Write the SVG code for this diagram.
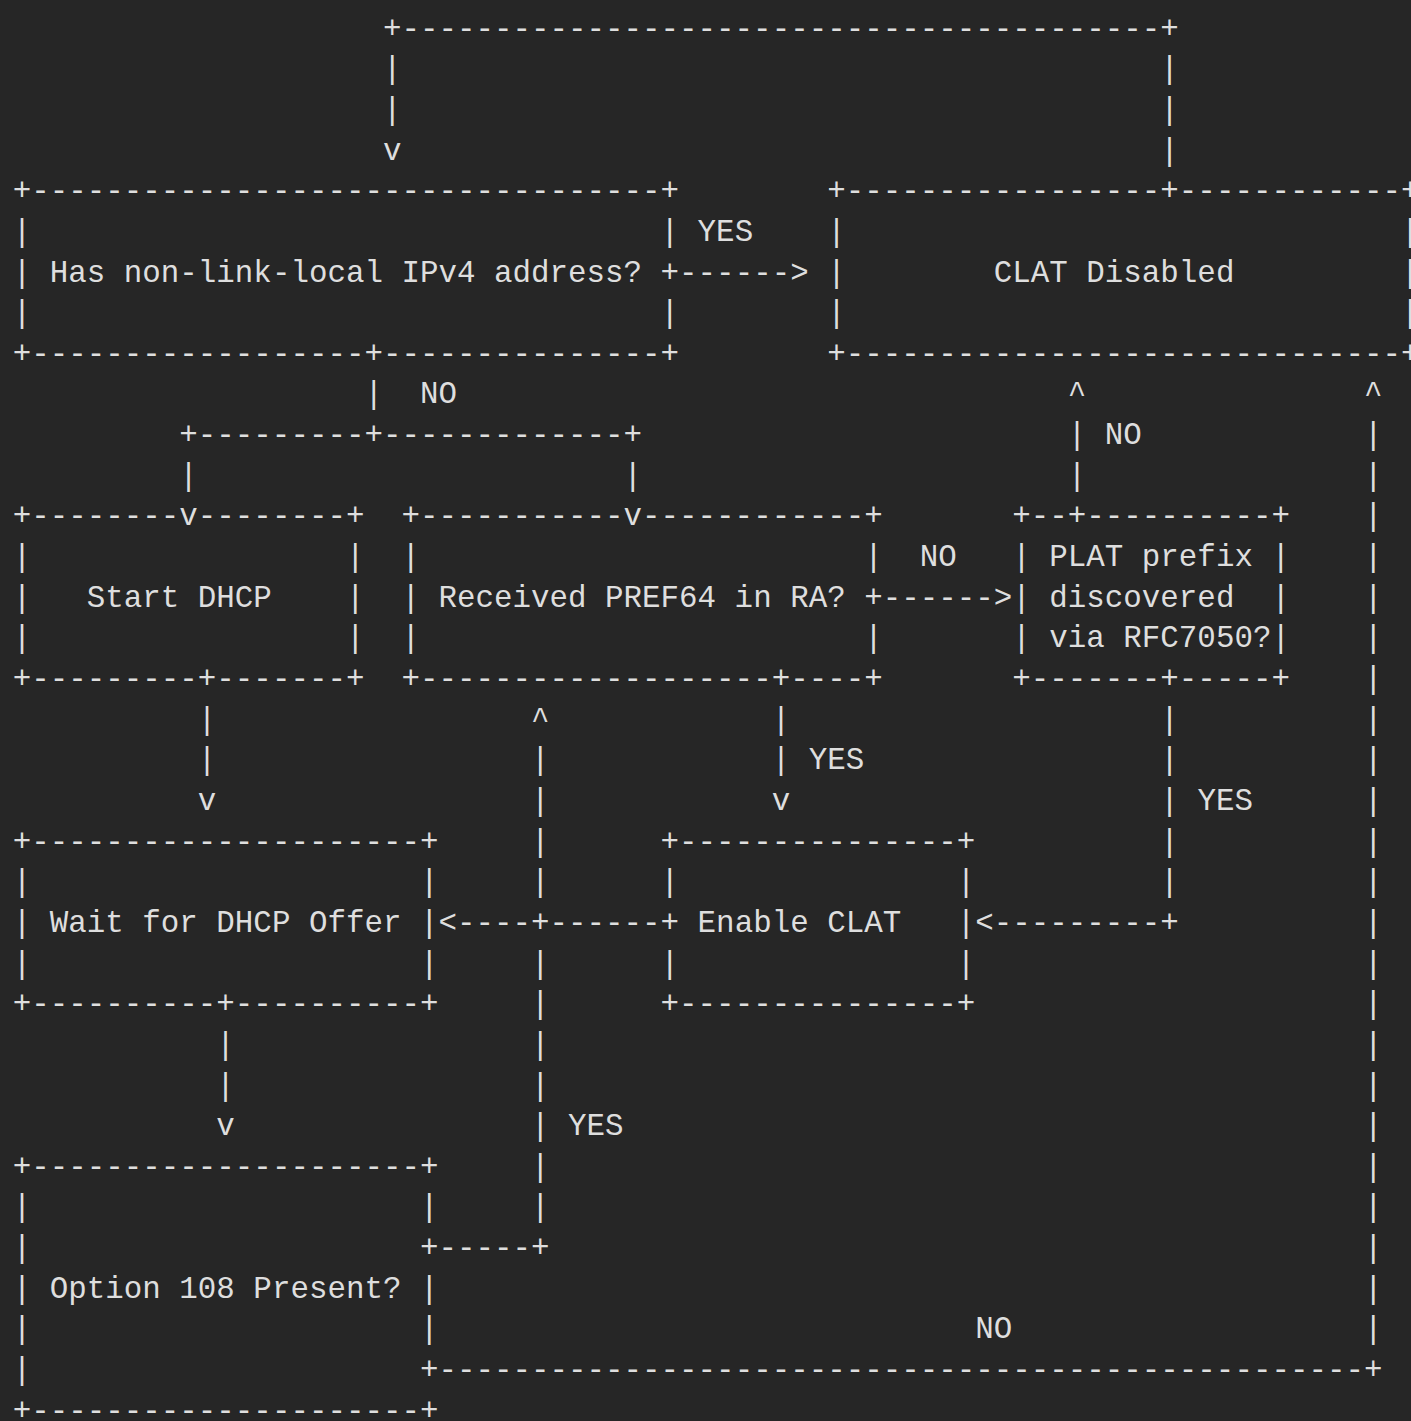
<svg xmlns="http://www.w3.org/2000/svg" width="1411" height="1421" viewBox="0 0 1411 1421">
<style>
text { font-family: "Liberation Mono", "DejaVu Sans Mono", monospace; font-size: 30.85px; fill: #dedede; white-space: pre; }
</style>
<rect width="1411" height="1421" fill="#262626"/>
<g id="connectors">
<text x="382.95" y="37.6">+-----------------------------------------+</text>
<text x="382.95" y="78.25">|</text><text x="1160.37" y="78.25">|</text>
<text x="382.95" y="118.9">|</text><text x="1160.37" y="118.9">|</text>
<text x="382.95" y="159.55">v</text><text x="1160.37" y="159.55">|</text>
<text x="697.62" y="240.85">YES</text>
<text x="660.60" y="281.5">+------&gt;</text>
<text x="364.44" y="403.45">|</text><text x="419.97" y="403.45">NO</text>
<text x="1067.82" y="403.45">^</text><text x="1363.98" y="403.45">^</text>
<text x="179.34" y="444.1">+---------+-------------+</text>
<text x="1067.82" y="444.1">|</text><text x="1104.84" y="444.1">NO</text><text x="1363.98" y="444.1">|</text>
<text x="179.34" y="484.75">|</text><text x="623.58" y="484.75">|</text><text x="1067.82" y="484.75">|</text><text x="1363.98" y="484.75">|</text>
<text x="1363.98" y="525.4">|</text>
<text x="919.74" y="566.05">NO</text><text x="1363.98" y="566.05">|</text>
<text x="864.21" y="606.7">+------&gt;</text><text x="1363.98" y="606.7">|</text>
<text x="1363.98" y="647.35">|</text>
<text x="1363.98" y="688.0">|</text>
<text x="197.85" y="728.65">|</text><text x="531.03" y="728.65">^</text><text x="771.66" y="728.65">|</text><text x="1160.37" y="728.65">|</text><text x="1363.98" y="728.65">|</text>
<text x="197.85" y="769.3">|</text><text x="531.03" y="769.3">|</text><text x="771.66" y="769.3">|</text><text x="808.68" y="769.3">YES</text><text x="1160.37" y="769.3">|</text><text x="1363.98" y="769.3">|</text>
<text x="197.85" y="809.95">v</text><text x="531.03" y="809.95">|</text><text x="771.66" y="809.95">v</text><text x="1160.37" y="809.95">|</text><text x="1197.39" y="809.95">YES</text><text x="1363.98" y="809.95">|</text>
<text x="531.03" y="850.6">|</text><text x="1160.37" y="850.6">|</text><text x="1363.98" y="850.6">|</text>
<text x="531.03" y="891.25">|</text><text x="1160.37" y="891.25">|</text><text x="1363.98" y="891.25">|</text>
<text x="438.48" y="931.9">&lt;----+------+</text><text x="975.27" y="931.9">&lt;---------+</text><text x="1363.98" y="931.9">|</text>
<text x="531.03" y="972.55">|</text><text x="1363.98" y="972.55">|</text>
<text x="531.03" y="1013.2">|</text><text x="1363.98" y="1013.2">|</text>
<text x="216.36" y="1053.85">|</text><text x="531.03" y="1053.85">|</text><text x="1363.98" y="1053.85">|</text>
<text x="216.36" y="1094.5">|</text><text x="531.03" y="1094.5">|</text><text x="1363.98" y="1094.5">|</text>
<text x="216.36" y="1135.15">v</text><text x="531.03" y="1135.15">|</text><text x="568.05" y="1135.15">YES</text><text x="1363.98" y="1135.15">|</text>
<text x="531.03" y="1175.8">|</text><text x="1363.98" y="1175.8">|</text>
<text x="531.03" y="1216.45">|</text><text x="1363.98" y="1216.45">|</text>
<text x="419.97" y="1257.1">+-----+</text><text x="1363.98" y="1257.1">|</text>
<text x="1363.98" y="1297.75">|</text>
<text x="975.27" y="1338.4">NO</text><text x="1363.98" y="1338.4">|</text>
<text x="419.97" y="1379.05">+--------------------------------------------------+</text>
</g>
<g id="node-ipv4">
<text x="12.75" y="200.2">+----------------------------------+</text>
<text x="12.75" y="240.85">|</text><text x="660.60" y="240.85">|</text>
<text x="12.75" y="281.5">|</text><text x="49.77" y="281.5">Has non-link-local IPv4 address?</text>
<text x="12.75" y="322.15">|</text><text x="660.60" y="322.15">|</text>
<text x="12.75" y="362.8">+------------------+---------------+</text>
</g>
<g id="node-clat-disabled">
<text x="827.19" y="200.2">+-----------------+------------+</text>
<text x="827.19" y="240.85">|</text><text x="1401.00" y="240.85">|</text>
<text x="827.19" y="281.5">|</text><text x="993.78" y="281.5">CLAT Disabled</text><text x="1401.00" y="281.5">|</text>
<text x="827.19" y="322.15">|</text><text x="1401.00" y="322.15">|</text>
<text x="827.19" y="362.8">+------------------------------+</text>
</g>
<g id="node-start-dhcp">
<text x="12.75" y="525.4">+--------v--------+</text>
<text x="12.75" y="566.05">|</text><text x="345.93" y="566.05">|</text>
<text x="12.75" y="606.7">|</text><text x="86.79" y="606.7">Start DHCP</text><text x="345.93" y="606.7">|</text>
<text x="12.75" y="647.35">|</text><text x="345.93" y="647.35">|</text>
<text x="12.75" y="688.0">+---------+-------+</text>
</g>
<g id="node-pref64">
<text x="401.46" y="525.4">+-----------v------------+</text>
<text x="401.46" y="566.05">|</text><text x="864.21" y="566.05">|</text>
<text x="401.46" y="606.7">|</text><text x="438.48" y="606.7">Received PREF64 in RA?</text>
<text x="401.46" y="647.35">|</text><text x="864.21" y="647.35">|</text>
<text x="401.46" y="688.0">+-------------------+----+</text>
</g>
<g id="node-plat">
<text x="1012.29" y="525.4">+--+----------+</text>
<text x="1012.29" y="566.05">|</text><text x="1049.31" y="566.05">PLAT prefix</text><text x="1271.43" y="566.05">|</text>
<text x="1012.29" y="606.7">|</text><text x="1049.31" y="606.7">discovered</text><text x="1271.43" y="606.7">|</text>
<text x="1012.29" y="647.35">|</text><text x="1049.31" y="647.35">via RFC7050?</text><text x="1271.43" y="647.35">|</text>
<text x="1012.29" y="688.0">+-------+-----+</text>
</g>
<g id="node-wait-offer">
<text x="12.75" y="850.6">+---------------------+</text>
<text x="12.75" y="891.25">|</text><text x="419.97" y="891.25">|</text>
<text x="12.75" y="931.9">|</text><text x="49.77" y="931.9">Wait for DHCP Offer</text><text x="419.97" y="931.9">|</text>
<text x="12.75" y="972.55">|</text><text x="419.97" y="972.55">|</text>
<text x="12.75" y="1013.2">+----------+----------+</text>
</g>
<g id="node-enable-clat">
<text x="660.60" y="850.6">+---------------+</text>
<text x="660.60" y="891.25">|</text><text x="956.76" y="891.25">|</text>
<text x="697.62" y="931.9">Enable CLAT</text><text x="956.76" y="931.9">|</text>
<text x="660.60" y="972.55">|</text><text x="956.76" y="972.55">|</text>
<text x="660.60" y="1013.2">+---------------+</text>
</g>
<g id="node-option108">
<text x="12.75" y="1175.8">+---------------------+</text>
<text x="12.75" y="1216.45">|</text><text x="419.97" y="1216.45">|</text>
<text x="12.75" y="1257.1">|</text>
<text x="12.75" y="1297.75">|</text><text x="49.77" y="1297.75">Option 108 Present?</text><text x="419.97" y="1297.75">|</text>
<text x="12.75" y="1338.4">|</text><text x="419.97" y="1338.4">|</text>
<text x="12.75" y="1379.05">|</text>
<text x="12.75" y="1419.7">+---------------------+</text>
</g>
</svg>
